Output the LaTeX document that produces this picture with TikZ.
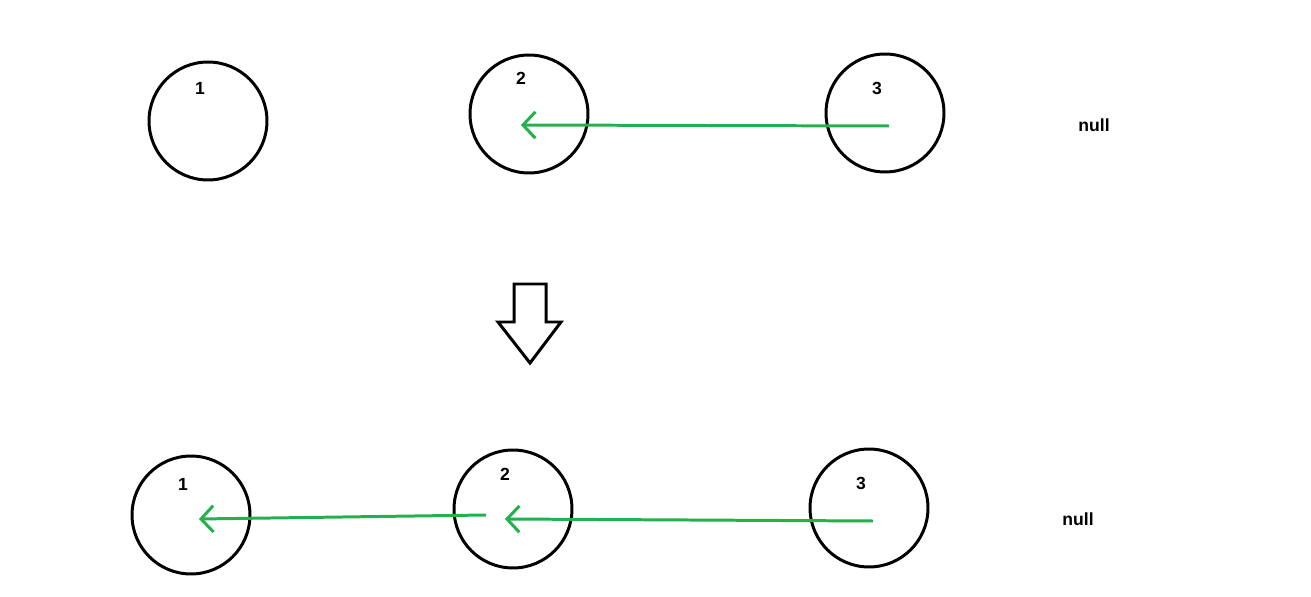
\documentclass[tikz,border=0pt]{standalone}
\usepackage{fontspec}
\setmainfont{Liberation Sans}
\usetikzlibrary{arrows.meta}
\definecolor{linkgreen}{RGB}{34,177,76}
\begin{document}
\begin{tikzpicture}[x=0.02cm,y=-0.02cm,
    item/.style={circle, draw, line width=1.7pt, minimum size=2.36cm, inner sep=0pt},
    lbl/.style={font=\bfseries\fontsize{10}{12}\selectfont},
    link/.style={linkgreen, line width=1.7pt, -{Straight Barb[length=7pt,width=15pt,line width=1.7pt]}}]

        \useasboundingbox (0,0) rectangle (1311,597);

        % Before: the list 1 -> 2 -> 3
        \node[item] (A1) at (208,121) {};
        \node[item] (A2) at (529,114) {};
        \node[item] (A3) at (885,113) {};
        \node[lbl] (An) at (1094,125) {null};
        \node[lbl] at (200,88) {1};
        \node[lbl] at (521,78) {2};
        \node[lbl] at (877,88) {3};
        \coordinate (a3) at (889,126);
        \coordinate (a2) at (521,125);
        \draw[link] (a3) -- (a2);

        % Down arrow
        \draw[line width=1.7pt] (514,284) -- (546,284) -- (546,322) -- (561,322) -- (530,363)
            -- (498,322) -- (514,322) -- cycle;

        % After: the links reversed
        \node[item] (B1) at (191,515) {};
        \node[item] (B2) at (513,509) {};
        \node[item] (B3) at (869,508) {};
        \node[lbl] (Bn) at (1078,519) {null};
        \node[lbl] at (183,484) {1};
        \node[lbl] at (505,474) {2};
        \node[lbl] at (861,483) {3};
        \coordinate (b3) at (873,521);
        \coordinate (b2s) at (486,515);
        \coordinate (b2) at (505,519);
        \coordinate (b1) at (199,519);
        \draw[link] (b3) -- (b2);
        \draw[link] (b2s) -- (b1);

    \end{tikzpicture}
\end{document}
